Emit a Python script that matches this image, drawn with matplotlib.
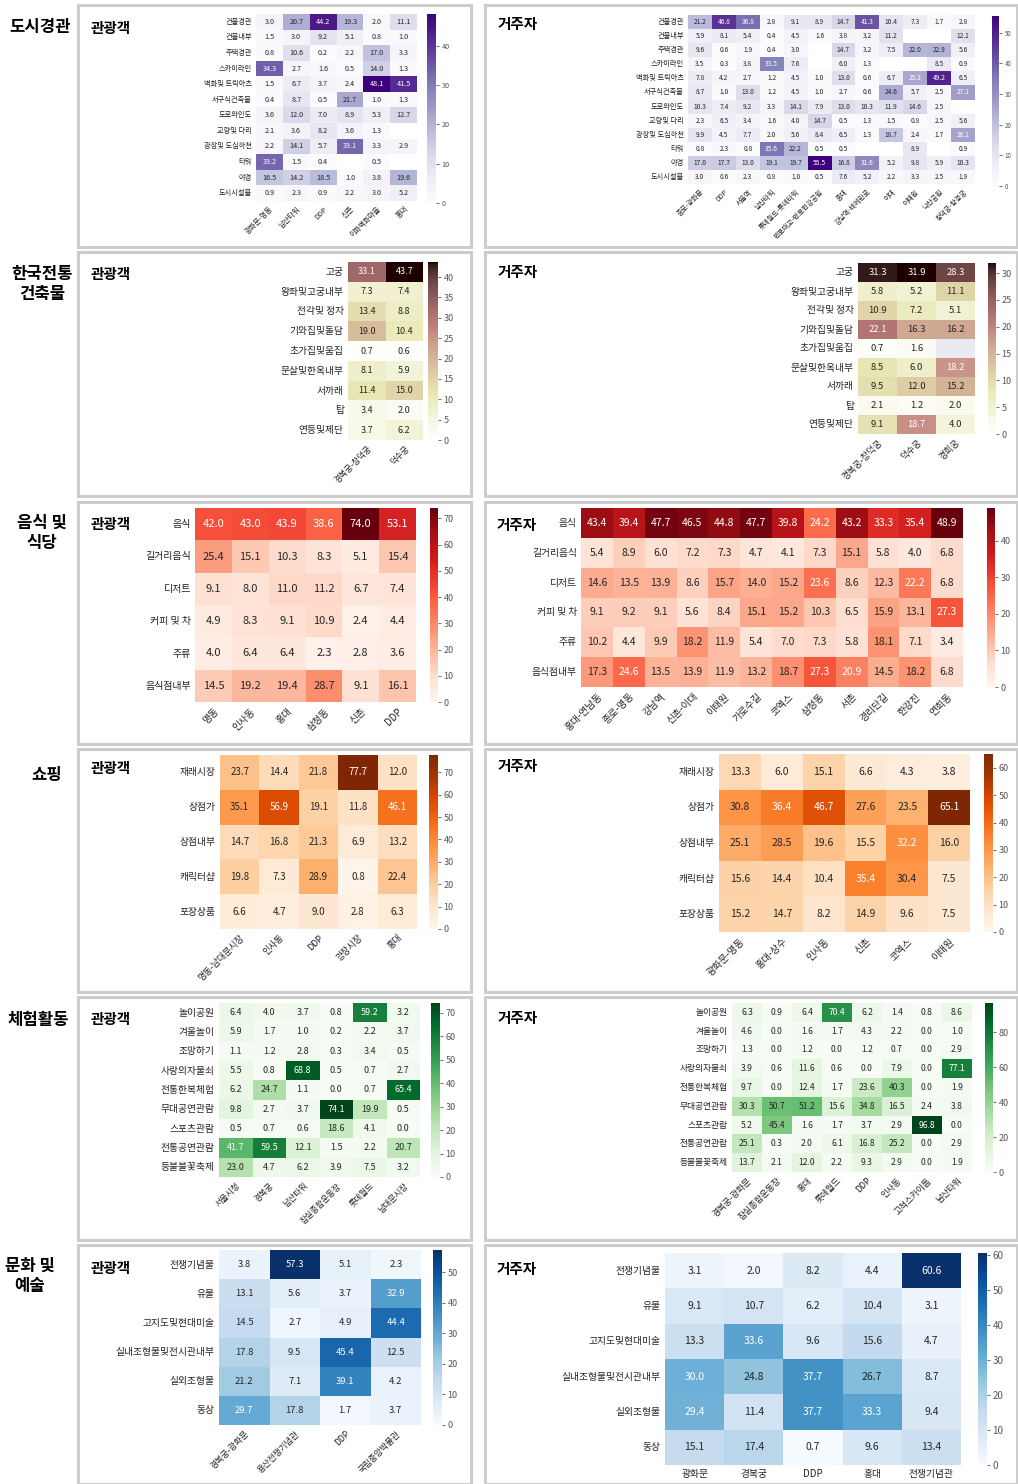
import numpy as np
import matplotlib
matplotlib.use('Agg')
import matplotlib.pyplot as plt
import seaborn as sns
from matplotlib.patches import Rectangle

nan = float('nan')

# ---------------- data ----------------
row_titles = ["도시경관", "한국전통\n건축물", "음식 및\n식당", "쇼핑", "체험활동", "문화 및\n예술"]

city_rows = ["건물경관", "건물내부", "주택경관", "스카이라인", "벽화및 트릭아츠", "서구식건축물",
             "도로와인도", "교량및 다리", "광장및 도심하천", "타워", "야경", "도시시설물"]
city_tour_cols = ["광화문-명동", "남산타워", "DDP", "신촌", "이화벽화마을", "홍대"]
city_tour = [
    [3.0, 20.7, 44.2, 19.3, 2.0, 11.1],
    [1.5, 3.0, 9.2, 5.1, 0.8, 1.0],
    [0.8, 10.6, 0.2, 2.2, 17.0, 3.3],
    [34.3, 2.7, 1.6, 0.5, 14.0, 1.3],
    [1.5, 6.7, 3.7, 2.4, 48.1, 41.5],
    [0.4, 8.7, 0.5, 21.7, 1.0, 1.3],
    [3.6, 12.0, 7.0, 8.9, 5.3, 12.7],
    [2.1, 3.6, 8.2, 3.6, 1.3, nan],
    [2.2, 14.1, 5.7, 33.1, 3.3, 2.9],
    [33.2, 1.5, 0.4, nan, 0.5, nan],
    [16.5, 14.2, 18.5, 1.0, 3.8, 19.6],
    [0.9, 2.3, 0.9, 2.2, 3.0, 5.2],
]
city_res_cols = ["종로-광화문", "DDP", "서울역", "남산타워", "롯데월드-롯데타워", "반포대교-반포한강공원",
                 "홍대", "강남역-테헤란로", "이대", "이태원", "낙산공원", "창덕궁-창경궁"]
city_res = [
    [21.2, 46.8, 36.8, 2.8, 9.1, 8.9, 14.7, 41.3, 10.4, 7.3, 1.7, 2.8],
    [5.9, 8.1, 5.4, 0.4, 4.5, 1.6, 3.8, 3.2, 11.2, nan, nan, 12.1],
    [9.6, 0.6, 1.9, 0.4, 3.0, nan, 14.7, 3.2, 7.5, 22.0, 22.9, 5.6],
    [3.5, 0.3, 3.8, 33.5, 7.6, nan, 6.0, 1.3, nan, nan, 8.5, 0.9],
    [7.8, 4.2, 2.7, 1.2, 4.5, 1.0, 13.0, 0.6, 6.7, 25.2, 49.2, 6.5],
    [8.7, 1.0, 13.0, 1.2, 4.5, 1.0, 2.7, 0.6, 24.6, 5.7, 2.5, 27.1],
    [10.3, 7.4, 9.2, 3.3, 14.1, 7.9, 13.0, 10.3, 11.9, 14.6, 2.5, nan],
    [2.3, 6.5, 3.4, 1.6, 4.0, 14.7, 0.5, 1.3, 1.5, 0.8, 2.5, 5.6],
    [9.9, 4.5, 7.7, 2.0, 5.6, 8.4, 6.5, 1.3, 18.7, 2.4, 1.7, 26.2],
    [0.8, 2.3, 0.8, 35.6, 22.2, 0.5, 0.5, nan, nan, 8.9, nan, 0.9],
    [17.0, 17.7, 13.0, 19.1, 19.7, 55.5, 16.8, 31.6, 5.2, 9.8, 5.9, 10.3],
    [3.0, 0.6, 2.3, 0.8, 1.0, 0.5, 7.6, 5.2, 2.2, 3.3, 2.5, 1.9],
]

trad_rows = ["고궁", "왕좌및고궁내부", "전각및 정자", "기와집및돌담", "초가집및움집",
             "문살및한옥내부", "서까래", "탑", "연등및제단"]
trad_tour_cols = ["경복궁-창덕궁", "덕수궁"]
trad_tour = [[33.1, 43.7], [7.3, 7.4], [13.4, 8.8], [19.0, 10.4], [0.7, 0.6],
             [8.1, 5.9], [11.4, 15.0], [3.4, 2.0], [3.7, 6.2]]
trad_res_cols = ["경복궁-창덕궁", "덕수궁", "경희궁"]
trad_res = [[31.3, 31.9, 28.3], [5.8, 5.2, 11.1], [10.9, 7.2, 5.1], [22.1, 16.3, 16.2],
            [0.7, 1.6, nan], [8.5, 6.0, 18.2], [9.5, 12.0, 15.2], [2.1, 1.2, 2.0], [9.1, 18.7, 4.0]]

food_rows = ["음식", "길거리음식", "디저트", "커피 및 차", "주류", "음식점내부"]
food_tour_cols = ["명동", "인사동", "홍대", "삼청동", "신촌", "DDP"]
food_tour = [
    [42.0, 43.0, 43.9, 38.6, 74.0, 53.1],
    [25.4, 15.1, 10.3, 8.3, 5.1, 15.4],
    [9.1, 8.0, 11.0, 11.2, 6.7, 7.4],
    [4.9, 8.3, 9.1, 10.9, 2.4, 4.4],
    [4.0, 6.4, 6.4, 2.3, 2.8, 3.6],
    [14.5, 19.2, 19.4, 28.7, 9.1, 16.1],
]
food_res_cols = ["홍대-연남동", "종로-명동", "강남역", "신촌-이대", "이태원", "가로수길",
                 "코엑스", "삼청동", "서촌", "경리단길", "한강진", "연희동"]
food_res = [
    [43.4, 39.4, 47.7, 46.5, 44.8, 47.7, 39.8, 24.2, 43.2, 33.3, 35.4, 48.9],
    [5.4, 8.9, 6.0, 7.2, 7.3, 4.7, 4.1, 7.3, 15.1, 5.8, 4.0, 6.8],
    [14.6, 13.5, 13.9, 8.6, 15.7, 14.0, 15.2, 23.6, 8.6, 12.3, 22.2, 6.8],
    [9.1, 9.2, 9.1, 5.6, 8.4, 15.1, 15.2, 10.3, 6.5, 15.9, 13.1, 27.3],
    [10.2, 4.4, 9.9, 18.2, 11.9, 5.4, 7.0, 7.3, 5.8, 18.1, 7.1, 3.4],
    [17.3, 24.6, 13.5, 13.9, 11.9, 13.2, 18.7, 27.3, 20.9, 14.5, 18.2, 6.8],
]

shop_rows = ["재래시장", "상점가", "상점내부", "캐릭터샵", "포장상품"]
shop_tour_cols = ["명동-남대문시장", "인사동", "DDP", "광장시장", "홍대"]
shop_tour = [
    [23.7, 14.4, 21.8, 77.7, 12.0],
    [35.1, 56.9, 19.1, 11.8, 46.1],
    [14.7, 16.8, 21.3, 6.9, 13.2],
    [19.8, 7.3, 28.9, 0.8, 22.4],
    [6.6, 4.7, 9.0, 2.8, 6.3],
]
shop_res_cols = ["광화문-명동", "홍대-상수", "인사동", "신촌", "코엑스", "이태원"]
shop_res = [
    [13.3, 6.0, 15.1, 6.6, 4.3, 3.8],
    [30.8, 36.4, 46.7, 27.6, 23.5, 65.1],
    [25.1, 28.5, 19.6, 15.5, 32.2, 16.0],
    [15.6, 14.4, 10.4, 35.4, 30.4, 7.5],
    [15.2, 14.7, 8.2, 14.9, 9.6, 7.5],
]

exp_rows = ["놀이공원", "겨울놀이", "조망하기", "사랑의자물쇠", "전통한복체험",
            "무대공연관람", "스포츠관람", "전통공연관람", "등불불꽃축제"]
exp_tour_cols = ["서울시청", "경복궁", "남산타워", "잠실종합운동장", "롯데월드", "남대문시장"]
exp_tour = [
    [6.4, 4.0, 3.7, 0.8, 59.2, 3.2],
    [5.9, 1.7, 1.0, 0.2, 2.2, 3.7],
    [1.1, 1.2, 2.8, 0.3, 3.4, 0.5],
    [5.5, 0.8, 68.8, 0.5, 0.7, 2.7],
    [6.2, 24.7, 1.1, 0.0, 0.7, 65.4],
    [9.8, 2.7, 3.7, 74.1, 19.9, 0.5],
    [0.5, 0.7, 0.6, 18.6, 4.1, 0.0],
    [41.7, 59.5, 12.1, 1.5, 2.2, 20.7],
    [23.0, 4.7, 6.2, 3.9, 7.5, 3.2],
]
exp_res_cols = ["경복궁-광화문", "잠실종합운동장", "홍대", "롯데월드", "DDP", "인사동", "고척스카이돔", "남산타워"]
exp_res = [
    [6.3, 0.9, 6.4, 70.4, 6.2, 1.4, 0.8, 8.6],
    [4.6, 0.0, 1.6, 1.7, 4.3, 2.2, 0.0, 1.0],
    [1.3, 0.0, 1.2, 0.0, 1.2, 0.7, 0.0, 2.9],
    [3.9, 0.6, 11.6, 0.6, 0.0, 7.9, 0.0, 77.1],
    [9.7, 0.0, 12.4, 1.7, 23.6, 40.3, 0.0, 1.9],
    [30.3, 50.7, 51.2, 15.6, 34.8, 16.5, 2.4, 3.8],
    [5.2, 45.4, 1.6, 1.7, 3.7, 2.9, 96.8, 0.0],
    [25.1, 0.3, 2.0, 6.1, 16.8, 25.2, 0.0, 2.9],
    [13.7, 2.1, 12.0, 2.2, 9.3, 2.9, 0.0, 1.9],
]

art_rows = ["전쟁기념물", "유물", "고지도및현대미술", "실내조형물및전시관내부", "실외조형물", "동상"]
art_tour_cols = ["경복궁-광화문", "용산전쟁기념관", "DDP", "국립중앙박물관"]
art_tour = [
    [3.8, 57.3, 5.1, 2.3],
    [13.1, 5.6, 3.7, 32.9],
    [14.5, 2.7, 4.9, 44.4],
    [17.8, 9.5, 45.4, 12.5],
    [21.2, 7.1, 39.1, 4.2],
    [29.7, 17.8, 1.7, 3.7],
]
art_res_cols = ["광화문", "경복궁", "DDP", "홍대", "전쟁기념관"]
art_res = [
    [3.1, 2.0, 8.2, 4.4, 60.6],
    [9.1, 10.7, 6.2, 10.4, 3.1],
    [13.3, 33.6, 9.6, 15.6, 4.7],
    [30.0, 24.8, 37.7, 26.7, 8.7],
    [29.4, 11.4, 37.7, 33.3, 9.4],
    [15.1, 17.4, 0.7, 9.6, 13.4],
]

# ---------------- layout ----------------
plt.rcParams['font.family'] = ['Noto Sans CJK KR', 'DejaVu Sans']
plt.rcParams['axes.unicode_minus'] = False

W, H = 1018, 1484
fig = plt.figure(figsize=(W / 100, H / 100), dpi=100)
fig.patch.set_facecolor('white')


def ax_px(x0, y0, x1, y1):
    return fig.add_axes([x0 / W, 1 - y1 / H, (x1 - x0) / W, (y1 - y0) / H])


def box(x0, y0, x1, y1):
    fig.add_artist(Rectangle((x0 / W, 1 - y1 / H), (x1 - x0) / W, (y1 - y0) / H,
                             transform=fig.transFigure, fill=False,
                             edgecolor='#cccccc', lw=2.2))


def heat(data, rows, cols, cmap, hm, cb, afs, yfs, xfs, cfs, ticks, rot=True, nanc='white'):
    ax = ax_px(*hm)
    cax = ax_px(*cb)
    arr = np.array(data, dtype=float)
    sns.heatmap(arr, ax=ax, cbar_ax=cax, cmap=cmap, vmin=0, vmax=np.nanmax(arr),
                annot=True, fmt='.1f', annot_kws={'size': afs},
                xticklabels=cols, yticklabels=rows, linewidths=0)
    ax.set_facecolor(nanc)
    ax.tick_params(axis='both', length=0, pad=3, colors='#222222')
    ax.set_yticklabels(rows, rotation=0, fontsize=yfs)
    if rot:
        ax.set_xticklabels(cols, rotation=45, ha='right', rotation_mode='anchor', fontsize=xfs)
    else:
        ax.set_xticklabels(cols, rotation=0, fontsize=xfs)
    cax.set_yticks(ticks)
    cax.tick_params(labelsize=cfs, length=2.5, width=0.6, colors='#555555', pad=1.5)
    for t in cax.get_yticklabels():
        t.set_color('#555555')
    return ax


# panel boxes
row_y = [(5, 247), (252, 496), (502, 744), (749, 992), (997, 1240), (1245, 1484)]
for (y0, y1) in row_y:
    box(78, y0, 471, y1)
    box(485, y0, 1017, y1)

# row titles
row_title_pos = [(40, 27), (42, 284), (42, 533), (47, 775), (38, 1020), (30, 1276)]
for t, (x, y) in zip(row_titles, row_title_pos):
    fig.text(x / W, 1 - y / H, t, ha='center', va='center', fontsize=12,
             fontweight='bold', linespacing=1.1)

# panel titles
tour_pos = [(91, 28), (91, 274), (91, 524), (91, 768), (91, 1019), (91, 1268)]
res_pos = [(498, 24), (498, 272), (497, 525), (498, 766), (498, 1018), (497, 1269)]
for (x, y) in tour_pos:
    fig.text(x / W, 1 - y / H, "관광객", ha='left', va='center', fontsize=10.5, fontweight='bold')
for (x, y) in res_pos:
    fig.text(x / W, 1 - y / H, "거주자", ha='left', va='center', fontsize=10.5, fontweight='bold')

# row 1: city landscape
heat(city_tour, city_rows, city_tour_cols, 'Purples', (256, 14, 417, 201), (427, 14, 436, 203),
     5.2, 5.2, 5.2, 5.2, [0, 10, 20, 30, 40])
heat(city_res, city_rows, city_res_cols, 'Purples', (688, 15, 975, 184), (992, 16, 999, 186),
     4.8, 5.2, 5.0, 4.5, [0, 10, 20, 30, 40, 50])

# row 2: traditional architecture
heat(trad_tour, trad_rows, trad_tour_cols, 'pink_r', (348, 262, 423, 440), (428, 262, 438, 440),
     6.5, 7, 6, 6.5, list(range(0, 45, 5)))
heat(trad_res, trad_rows, trad_res_cols, 'pink_r', (858, 263, 975, 434), (988, 263, 996, 434),
     6.8, 7, 6.5, 6.5, list(range(0, 35, 5)), nanc='#eaeaf2')

# row 3: food
heat(food_tour, food_rows, food_tour_cols, 'Reds', (195, 508, 416, 702), (430, 508, 438, 702),
     8, 7.2, 7, 6.5, list(range(0, 80, 10)))
heat(food_res, food_rows, food_res_cols, 'Reds', (581, 508, 963, 687), (987, 508, 995, 687),
     7.5, 7, 7, 6.5, [0, 10, 20, 30, 40])

# row 4: shopping
heat(shop_tour, shop_rows, shop_tour_cols, 'Oranges', (220, 755, 417, 929), (429, 755, 438, 929),
     7, 7, 6.5, 6.5, list(range(0, 80, 10)))
heat(shop_res, shop_rows, shop_res_cols, 'Oranges', (719, 754, 970, 932), (984, 754, 993, 932),
     7.5, 7, 7, 6.5, list(range(0, 70, 10)))

# row 5: experiences
heat(exp_tour, exp_rows, exp_tour_cols, 'Greens', (219, 1003, 420, 1177), (431, 1003, 440, 1177),
     6.5, 7, 6, 6.5, list(range(0, 80, 10)))
heat(exp_res, exp_rows, exp_res_cols, 'Greens', (732, 1003, 972, 1172), (985, 1003, 993, 1172),
     6.2, 6.3, 6.3, 6.5, [0, 20, 40, 60, 80])

# row 6: culture & arts
heat(art_tour, art_rows, art_tour_cols, 'Blues', (219, 1250, 421, 1425), (433, 1250, 442, 1425),
     6.8, 7, 6.2, 6.5, list(range(0, 60, 10)))
heat(art_res, art_rows, art_res_cols, 'Blues', (665, 1253, 961, 1465), (978, 1253, 987, 1465),
     7.5, 7, 7, 7, list(range(0, 70, 10)), rot=False)

fig.savefig('out.png', dpi=100, facecolor='white')
